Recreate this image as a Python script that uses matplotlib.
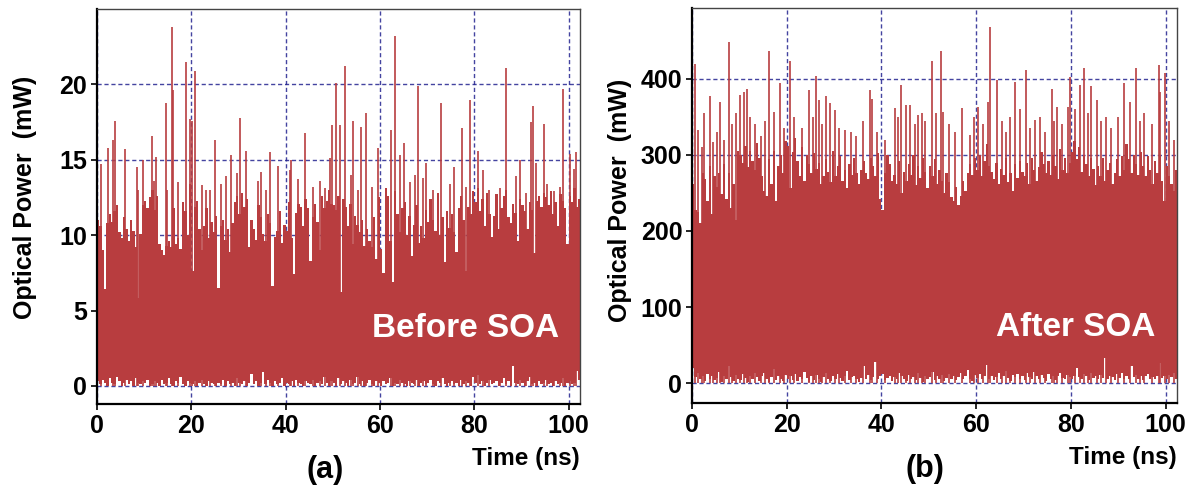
import matplotlib
matplotlib.use("Agg")
import matplotlib.pyplot as plt
import numpy as np

plt.rcParams["font.family"] = ["Liberation Sans", "DejaVu Sans"]
plt.rcParams["font.weight"] = "bold"

RED = "#b83d3f"
GRID = "#23238f"

# sampling grid of the trace: 0.5 ns bins over a 102.4 ns window
DT = 0.5
T_END = 102.4

# (a) before SOA: body level of each 0.5 ns bin (mW)
peak_a = [
    11.0, 10.6, 9.0, 6.4, 10.8, 11.4, 10.9, 11.6, 12.0, 10.2,
    9.8, 11.2, 10.4, 9.6, 11.0, 10.3, 9.2, 5.8, 10.1, 12.0,
    12.3, 11.8, 12.5, 13.0, 11.7, 12.6, 9.4, 9.0, 8.7, 9.3,
    9.6, 9.2, 11.8, 9.4, 9.8, 9.1, 12.2, 11.6, 10.0, 13.4,
    7.6, 11.9, 12.3, 10.4, 9.0, 10.6, 11.8, 9.8, 10.9, 10.2,
    11.3, 6.5, 10.6, 11.0, 9.7, 10.4, 8.9, 10.8, 12.2, 12.6,
    11.4, 12.8, 11.9, 12.4, 9.2, 11.0, 10.4, 9.7, 12.0, 11.2,
    10.1, 9.6, 11.4, 10.8, 6.6, 9.9, 10.3, 11.6, 9.5, 10.7,
    10.3, 12.2, 9.8, 7.4, 11.5, 12.1, 11.9, 10.6, 12.4, 11.8,
    8.3, 11.2, 12.1, 10.9, 9.0, 12.6, 11.8, 12.3, 13.0, 12.1,
    12.0, 11.7, 12.6, 6.2, 12.4, 11.9, 10.6, 12.1, 9.4, 11.3,
    10.7, 10.2, 11.0, 9.3, 10.4, 9.6, 9.2, 11.2, 8.4, 12.5,
    9.1, 7.5, 13.1, 12.6, 9.6, 6.9, 12.9, 11.4, 10.2, 11.8,
    12.2, 10.0, 11.3, 8.6, 10.7, 12.0, 9.5, 10.6, 9.8, 11.7,
    10.9, 12.4, 11.0, 10.3, 12.8, 10.0, 11.2, 8.2, 11.6, 10.5,
    11.4, 10.2, 8.9, 11.8, 12.6, 11.0, 7.6, 11.9, 11.4, 12.9,
    12.2, 13.1, 11.6, 12.4, 10.6, 12.8, 11.4, 9.9, 11.3, 12.7,
    10.4, 11.8, 12.6, 13.0, 11.2, 10.8, 12.1, 11.5, 9.6, 12.4,
    12.0, 11.6, 10.4, 12.2, 11.7, 8.8, 12.3, 12.6, 11.9, 12.8,
    12.5, 12.0, 12.9, 11.4, 12.2, 10.6, 12.7, 12.3, 11.8, 9.4,
    12.6, 12.2, 13.1, 11.9, 12.4,
]
trough_a = [
    0.3, 0.1, 0.4, 0.2, 0.0, 0.5, 0.2, 0.1, 0.6, 0.3,
    0.0, 0.2, 0.4, 0.1, 0.3, 0.0, 0.5, 0.2, 0.1, 0.3,
    0.2, 0.4, 0.0, 0.1, 0.3, 0.2, 0.0, 0.4, 0.1, 0.2,
    0.5, 0.1, 0.0, 0.3, 0.2, 0.6, 0.1, 0.0, 0.3, 0.2,
    0.1, 0.3, 0.0, 0.2, 0.4, 0.1, 0.0, 0.3, 0.2, 0.1,
    0.0, 0.2, 0.1, 0.4, 0.0, 0.3, 0.1, 0.2, 0.0, 0.5,
    0.2, 0.1, 0.3, 0.0, 0.2, 0.8, 0.1, 0.3, 0.0, 0.2,
    0.9, 0.1, 0.4, 0.2, 0.0, 0.3, 0.1, 0.2, 0.5, 0.0,
    0.2, 0.1, 0.3, 0.0, 0.4, 0.2, 0.1, 0.0, 0.3, 0.2,
    0.1, 0.4, 0.0, 0.2, 0.3, 0.1, 0.6, 0.2, 0.0, 0.3,
    0.2, 0.0, 0.5, 0.1, 0.3, 0.2, 0.0, 0.4, 0.1, 0.2,
    0.6, 0.1, 0.3, 0.0, 0.2, 0.4, 0.1, 0.0, 0.3, 0.2,
    0.0, 0.3, 0.1, 0.2, 0.5, 0.0, 0.2, 0.1, 0.4, 0.2,
    0.1, 0.0, 0.3, 0.2, 0.1, 0.4, 0.0, 0.2, 0.3, 0.1,
    0.2, 0.4, 0.1, 0.0, 0.3, 0.2, 0.5, 0.1, 0.0, 0.2,
    0.3, 0.1, 0.2, 0.0, 0.4, 0.1, 0.3, 0.2, 0.0, 0.6,
    0.2, 0.7, 0.1, 0.3, 0.0, 0.2, 0.4, 0.1, 0.2, 0.3,
    0.0, 0.2, 0.5, 0.1, 0.3, 0.0, 1.3, 0.2, 0.1, 0.4,
    0.2, 0.0, 0.3, 0.6, 0.1, 0.2, 0.0, 0.3, 0.1, 0.2,
    0.4, 0.1, 0.2, 0.0, 0.3, 0.1, 0.2, 0.5, 0.0, 0.2,
    0.3, 0.1, 0.2, 1.0, 0.4,
]
# single-sample spikes above the body (ns, mW)
spike_t_a = [0.85, 2.4, 3.5, 3.8, 5.9, 8.4, 8.8, 9.7, 11.6, 12.0, 12.6, 14.6,
             14.8, 16.0, 16.2, 17.2, 18.8, 19.8, 20.1, 20.8, 22.3, 23.2, 23.9,
             25.1, 26.4, 27.3, 28.4, 29.6, 30.3, 31.7, 34.2, 34.8, 35.9, 36.6,
             38.3, 40.9, 41.1, 42.7, 44.2, 45.8, 47.2, 48.3, 49.4, 49.9, 50.6,
             51.5, 52.5, 53.8, 54.3, 55.4, 55.9, 57.1, 58.3, 59.6, 62.3, 63.1,
             64.2, 65.2, 66.3, 67.4, 68.1, 69.1, 69.8, 71.3, 73.0, 74.8, 75.8,
             77.3, 78.3, 79.0, 80.8, 81.8, 83.2, 85.4, 86.8, 88.9, 89.8, 91.0,
             92.1, 92.4, 93.1, 94.8, 95.5, 96.9, 98.1, 98.8, 100.2, 101.1, 101.6]
spike_v_a = [14.7, 15.8, 16.3, 17.6, 15.7, 14.5, 13.0, 15.0, 16.6, 13.6, 15.2, 18.8,
             13.0, 23.8, 19.6, 13.5, 21.5, 17.7, 17.6, 20.9, 13.3, 13.0, 13.0,
             16.3, 13.4, 13.9, 15.3, 14.1, 17.8, 15.6, 13.6, 14.2, 13.0, 15.5,
             14.6, 14.3, 15.0, 13.7, 16.8, 13.2, 13.6, 13.1, 15.1, 17.3, 20.1,
             17.3, 21.2, 14.0, 17.6, 13.0, 17.2, 18.1, 13.2, 15.8, 17.0, 23.2,
             15.3, 16.1, 13.5, 14.0, 19.9, 13.8, 14.8, 13.0, 18.8, 13.4, 14.5,
             17.1, 13.2, 19.0, 15.6, 14.3, 13.0, 13.1, 21.1, 13.9, 15.0, 12.8,
             17.5, 18.6, 14.8, 17.4, 13.4, 12.9, 13.2, 19.7, 15.4, 14.4, 15.5]

# (b) after SOA
peak_b = [
    262, 228, 225, 210, 276, 268, 240, 285, 222, 272,
    258, 276, 248, 288, 242, 276, 230, 262, 215, 305,
    300, 290, 312, 284, 305, 292, 280, 316, 296, 272,
    252, 246, 294, 262, 305, 240, 286, 300, 276, 318,
    312, 256, 304, 322, 292, 272, 310, 266, 300, 288,
    276, 302, 282, 290, 262, 272, 294, 278, 264, 305,
    272, 286, 298, 266, 280, 256, 288, 274, 296, 276,
    262, 280, 292, 276, 268, 296, 286, 272, 302, 242,
    228, 276, 300, 288, 266, 274, 262, 292, 250, 278,
    266, 288, 274, 300, 260, 286, 270, 296, 278, 256,
    286, 272, 294, 262, 280, 266, 250, 276, 264, 245,
    240, 258, 234, 246, 266, 252, 276, 288, 274, 296,
    280, 300, 272, 292, 314, 286, 278, 268, 290, 262,
    282, 274, 296, 264, 276, 252, 288, 270, 292, 278,
    272, 290, 262, 296, 280, 266, 284, 304, 288, 276,
    292, 274, 300, 286, 268, 308, 280, 296, 276, 290,
    304, 318, 294, 310, 278, 300, 288, 272, 296, 282,
    260, 286, 272, 296, 266, 280, 290, 262, 276, 294,
    272, 298, 280, 314, 294, 276, 300, 288, 274, 304,
    286, 272, 298, 280, 262, 292, 276, 300, 266, 240,
    286, 272, 262, 252, 280,
]
trough_b = [
    20, 8, 14, 5, 10, 3, 12, 6, 9, 4,
    7, 15, 2, 9, 5, 22, 8, 3, 11, 6,
    4, 12, 7, 2, 10, 5, 14, 8, 3, 9,
    13, 5, 2, 8, 18, 4, 10, 6, 3, 11,
    6, 9, 4, 12, 3, 8, 5, 15, 7, 2,
    9, 4, 11, 6, 2, 8, 13, 5, 3, 10,
    5, 12, 7, 3, 9, 16, 4, 8, 10, 6,
    2, 7, 22, 5, 11, 4, 8, 28, 6, 9,
    12, 4, 7, 10, 3, 8, 5, 14, 9, 6,
    3, 11, 6, 8, 4, 13, 7, 2, 10, 5,
    8, 15, 4, 9, 6, 11, 3, 7, 12, 5,
    10, 4, 8, 13, 5, 9, 17, 6, 3, 11,
    7, 12, 5, 9, 24, 6, 10, 4, 8, 13,
    5, 9, 16, 7, 3, 11, 8, 12, 6, 10,
    4, 13, 8, 6, 15, 9, 5, 11, 7, 3,
    12, 6, 9, 4, 10, 14, 7, 5, 11, 8,
    6, 10, 20, 8, 5, 12, 9, 4, 13, 7,
    9, 5, 11, 7, 33, 6, 10, 8, 4, 12,
    7, 14, 6, 9, 5, 22, 8, 11, 6, 10,
    4, 9, 12, 6, 8, 5, 10, 26, 7, 9,
    6, 11, 8, 14, 5,
]
spike_t_b = [0.63, 1.3, 2.0, 2.5, 3.7, 4.4, 5.2, 5.9, 6.8, 7.9, 8.5, 9.3, 10.1,
             11.0, 11.5, 12.2, 13.3, 14.6, 15.4, 16.2, 17.3, 18.6, 19.5, 20.7,
             21.6, 23.2, 24.7, 25.5, 26.2, 26.7, 27.5, 28.2, 29.1, 30.2, 31.0,
             32.3, 33.5, 34.6, 36.2, 37.6, 38.1, 39.0, 40.8, 42.8, 43.5, 44.1,
             45.2, 46.0, 47.0, 47.8, 48.5, 49.2, 50.6, 51.5, 52.5, 53.0, 54.3,
             55.6, 57.0, 58.7, 59.5, 60.3, 61.4, 62.5, 62.9, 64.3, 65.5, 66.3,
             67.2, 68.1, 69.3, 70.6, 71.4, 72.5, 73.5, 74.6, 75.9, 76.4, 77.0,
             78.2, 79.3, 79.9, 80.8, 82.0, 82.7, 83.5, 84.2, 85.4, 86.3, 87.4,
             88.4, 89.9, 91.2, 92.5, 93.8, 94.6, 95.4, 97.2, 98.5, 98.7, 99.8,
             100.8, 101.8]
spike_v_b = [420, 333, 310, 355, 377, 317, 330, 370, 320, 449, 340, 355, 379,
             383, 387, 350, 340, 325, 345, 436, 357, 394, 335, 423,
             350, 335, 385, 350, 404, 372, 340, 377, 368, 359, 335,
             333, 330, 325, 345, 385, 374, 330, 320, 361, 350, 392,
             366, 366, 340, 353, 355, 344, 423, 355, 436, 357, 340,
             330, 361, 326, 350, 363, 340, 370, 468, 398, 345, 330,
             350, 396, 360, 412, 335, 346, 350, 330, 387, 345, 363,
             340, 363, 403, 360, 392, 414, 355, 390, 372, 345, 350,
             335, 350, 394, 370, 414, 345, 355, 340, 418, 383, 408,
             345, 320]

panels = [
    dict(peak=peak_a, trough=trough_a, st=spike_t_a, sv=spike_v_a,
         ylim=(-1.2, 25.0), yticks=[0, 5, 10, 15, 20], tag="(a)",
         note="Before SOA", rect=[0.0812, 0.1755, 0.4045, 0.806],
         ylab_x=25 / 1194, ylab_y=0.598, note_x=0.764, tag_x=0.472),
    dict(peak=peak_b, trough=trough_b, st=spike_t_b, sv=spike_v_b,
         ylim=(-26, 493), yticks=[0, 100, 200, 300, 400], tag="(b)",
         note="After SOA", rect=[0.5796, 0.1776, 0.4062, 0.806],
         ylab_x=620 / 1194, ylab_y=0.592, note_x=0.79, tag_x=0.48),
]

fig = plt.figure(figsize=(11.94, 4.90), dpi=100)

for p in panels:
    ax = fig.add_axes(p["rect"])
    peak = np.array(p["peak"], dtype=float)
    trough = np.array(p["trough"], dtype=float)
    t = np.arange(len(peak)) * DT + DT / 2

    ax.set_axisbelow(True)
    ax.grid(True, color=GRID, linestyle=(0, (3, 2)), linewidth=1.0, alpha=0.85)
    ax.bar(t, peak - trough, bottom=trough, width=DT, color=RED,
           linewidth=0, antialiased=False, zorder=2)
    ax.vlines(p["st"], 0, p["sv"], colors=RED, linewidth=1.2, zorder=3)

    ax.set_xlim(0, T_END)
    ax.set_ylim(*p["ylim"])
    ax.set_xticks([0, 20, 40, 60, 80, 100])
    ax.set_yticks(p["yticks"])
    ax.tick_params(labelsize=18, width=1.2, length=4, direction="out", pad=3)
    for lab in ax.get_xticklabels() + ax.get_yticklabels():
        lab.set_fontweight("bold")
    for side in ("left", "bottom"):
        ax.spines[side].set_linewidth(1.6)
        ax.spines[side].set_color("black")
    for side in ("top", "right"):
        ax.spines[side].set_linewidth(1.0)
        ax.spines[side].set_color("#444444")

    ax.text(p["note_x"], 0.19, p["note"], transform=ax.transAxes, color="white",
            fontsize=24, fontweight="bold", ha="center", va="center", zorder=5)
    ax.text(1.0, -0.137, "Time (ns)", transform=ax.transAxes, fontsize=17.5,
            fontweight="bold", ha="right", va="center")
    ax.text(p["tag_x"], -0.167, p["tag"], transform=ax.transAxes, fontsize=22,
            fontweight="bold", ha="center", va="center")
    fig.text(p["ylab_x"], p["ylab_y"], "Optical Power  (mW)", rotation=90,
             fontsize=18, fontweight="bold", ha="center", va="center")

fig.savefig("out.png", dpi=100)
